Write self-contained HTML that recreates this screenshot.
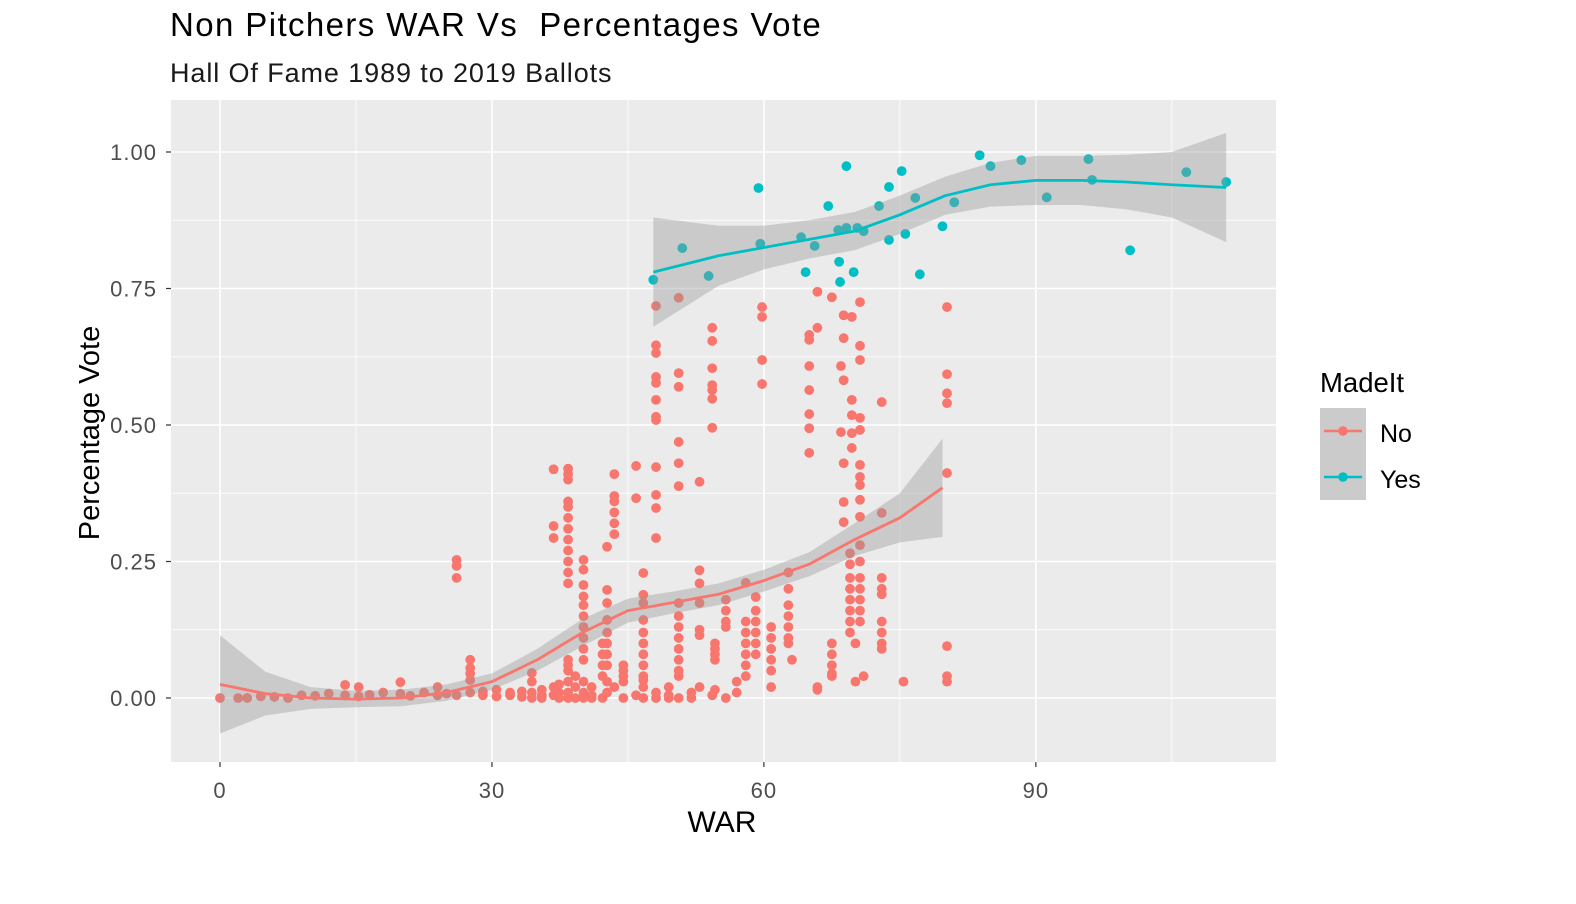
<!DOCTYPE html>
<html><head><meta charset="utf-8"><style>
html,body{margin:0;padding:0;background:#fff;}
svg{display:block;font-family:"Liberation Sans",Arial,sans-serif;}
</style></head><body>
<svg id="chart" width="1576" height="904" viewBox="0 0 1576 904">
<text x="170" y="36" font-size="33" letter-spacing="1.4" fill="#000" xml:space="preserve">Non Pitchers WAR Vs  Percentages Vote</text>
<text x="170" y="82" font-size="27" letter-spacing="0.9" fill="#1a1a1a">Hall Of Fame 1989 to 2019 Ballots</text>
<rect x="171" y="100" width="1105" height="662" fill="#EBEBEB"/>
<g id="grid"></g>
<g id="pts"></g>
<g id="smooth"></g>
<g id="axes"></g>
<text x="722" y="832" font-size="30" text-anchor="middle" fill="#000">WAR</text>
<text transform="translate(99,433) rotate(-90)" font-size="29" text-anchor="middle" fill="#000">Percentage Vote</text>
<g>
<text x="1320" y="392" font-size="27.5" fill="#000">MadeIt</text>
<rect x="1320" y="408" width="46" height="46" fill="#CBCBCB"/>
<line x1="1324" y1="431" x2="1362" y2="431" stroke="#F8766D" stroke-width="2.5"/>
<circle cx="1343" cy="431" r="4.8" fill="#F8766D"/>
<text x="1380" y="442" font-size="25" fill="#000">No</text>
<rect x="1320" y="454" width="46" height="46" fill="#CBCBCB"/>
<line x1="1324" y1="477" x2="1362" y2="477" stroke="#00BFC4" stroke-width="2.5"/>
<circle cx="1343" cy="477" r="4.8" fill="#00BFC4"/>
<text x="1380" y="488" font-size="25" fill="#000">Yes</text>
</g>
</svg>
<script>
const xTicks = [0, 30, 60, 90];
const xMinor = [15, 45, 75, 105];
const yTicks = [0, 0.25, 0.5, 0.75, 1.0];
const yTickLabels = ["0.00", "0.25", "0.50", "0.75", "1.00"];
const yMinor = [-0.125, 0.125, 0.375, 0.625, 0.875];

const yesWar = [47.8,51.0,53.9,59.4,59.6,64.1,64.6,65.6,67.1,68.3,68.2,68.4,69.1,69.1,69.9,70.3,71.0,72.7,73.8,73.8,75.2,75.6,76.7,77.2,79.7,81.0,83.8,85.0,88.4,91.2,95.8,96.2,100.4,106.6,111.0];
const yesVote = [0.766,0.824,0.773,0.934,0.832,0.844,0.780,0.828,0.901,0.799,0.857,0.762,0.974,0.861,0.780,0.861,0.855,0.901,0.936,0.839,0.965,0.850,0.916,0.776,0.864,0.908,0.994,0.974,0.985,0.917,0.987,0.949,0.820,0.963,0.945];

const noColWar = [0,2,3,4.5,6,7.5,9,10.5,12,13.8,15.3,16.5,18,19.9,21,22.5,24,25,26.1,27.6,29,30.5,32,33.3,34.4,35.5,36.8,37.4,38.4,39.2,40.1,41,42.2,42.7,43.5,44.5,45.9,46.7,48.1,49.5,50.6,52,52.9,54.3,54.6,55.8,57,58,59.1,59.8,60.8,62.7,63.1,65.0,65.9,67.5,68.5,68.8,69.5,69.7,70.1,70.6,71,73,75.4,80.2];
const noColVotes = [
[0],[0],[0],[0.003],[0.002],[0],[0.005],[0.004],[0.008],[0.024,0.005],[0.02,0.003],[0.006],[0.01],[0.029,0.008],[0.004],[0.01],[0.02,0.005],[0.008],
[0.253,0.242,0.22,0.005],[0.07,0.055,0.045,0.033,0.01],[0.005,0.012],[0.003,0.015],[0.005,0.01],[0.002,0.012],[0.046,0.03,0.01,0],[0.005,0.015,0],
[0.419,0.315,0.293,0.02,0.005],[0.01,0,0.025],
[0.42,0.41,0.40,0.36,0.35,0.33,0.31,0.29,0.27,0.25,0.23,0.21,0.07,0.06,0.05,0.03,0.01,0],
[0.02,0,0.04],
[0.253,0.235,0.207,0.186,0.17,0.15,0.13,0.11,0.09,0.07,0.03,0.01,0],
[0.005,0.02,0],[0.1,0.08,0.06,0.04,0],
[0.277,0.198,0.174,0.143,0.12,0.1,0.08,0.06,0.03,0.01],
[0.41,0.37,0.36,0.34,0.32,0.30,0.02],[0.06,0.05,0.04,0.03,0],[0.425,0.366,0.005],
[0.229,0.189,0.174,0.143,0.12,0.1,0.08,0.06,0.04,0.033,0.02,0],
[0.718,0.646,0.632,0.588,0.577,0.546,0.515,0.509,0.423,0.372,0.348,0.293,0.01,0],
[0.005,0.02,0],
[0.733,0.595,0.570,0.469,0.430,0.388,0.174,0.15,0.13,0.11,0.09,0.07,0.05,0.04,0],
[0.01,0],[0.396,0.234,0.21,0.174,0.125,0.115,0.02],
[0.678,0.654,0.604,0.573,0.564,0.548,0.495,0.005],[0.1,0.09,0.08,0.07,0.015],[0.18,0.16,0.14,0.13,0],[0.01,0.03],
[0.211,0.14,0.12,0.1,0.08,0.06,0.04],[0.185,0.16,0.14,0.12,0.1,0.08],[0.716,0.698,0.619,0.575],
[0.13,0.11,0.09,0.07,0.05,0.02],[0.23,0.2,0.17,0.15,0.13,0.11,0.1],[0.07],
[0.665,0.656,0.608,0.564,0.520,0.494,0.449],[0.744,0.678,0.02,0.015],[0.734,0.1,0.08,0.06,0.045,0.04],
[0.608,0.487],[0.701,0.659,0.582,0.430,0.359,0.322],[0.265,0.245,0.22,0.2,0.18,0.16,0.14,0.12],
[0.698,0.546,0.518,0.485,0.458],[0.03,0.1],
[0.725,0.645,0.619,0.513,0.491,0.427,0.405,0.390,0.363,0.332,0.28,0.25,0.22,0.2,0.18,0.16,0.14],
[0.04],[0.542,0.339,0.22,0.2,0.19,0.14,0.12,0.1,0.09],[0.03],[0.716,0.593,0.558,0.540,0.412,0.095,0.04,0.03]
];

const noFitWar = [0,5,10,15,20,25,30,35,40,45,50,55,60,65,70,75,79.7];
const noFitVote = [0.025,0.008,0.0,-0.002,0.0,0.01,0.03,0.07,0.12,0.16,0.175,0.19,0.215,0.245,0.29,0.33,0.385];
const noFitSe = [0.09,0.04,0.02,0.015,0.015,0.015,0.015,0.02,0.025,0.022,0.02,0.02,0.02,0.022,0.03,0.045,0.09];
const yesFitWar = [47.8,55,60,65,70,75,80,85,90,95,100,105,111];
const yesFitVote = [0.78,0.81,0.825,0.84,0.855,0.885,0.92,0.94,0.948,0.948,0.945,0.94,0.935];
const yesFitSe = [0.1,0.055,0.04,0.035,0.035,0.035,0.035,0.04,0.045,0.045,0.05,0.06,0.1];

const NS = "http://www.w3.org/2000/svg";
const X = v => 220 + v * 9.065;
const Y = v => 698 - v * 546;
const PL = 171, PR = 1276, PT = 100, PB = 762;
function mk(tag, attrs, parent) {
  const e = document.createElementNS(NS, tag);
  for (const k in attrs) e.setAttribute(k, attrs[k]);
  parent.appendChild(e);
  return e;
}
const grid = document.getElementById('grid');
xMinor.forEach(v => { const l = mk('line', {x1: X(v), x2: X(v), y1: PT, y2: PB, stroke: '#fff', 'stroke-width': 0.8}, grid);
  
   });
yMinor.forEach(v => { const l = mk('line', {x1: PL, x2: PR, y1: Y(v), y2: Y(v), stroke: '#fff', 'stroke-width': 0.8}, grid);
  
   });
xTicks.forEach(v => { const l = mk('line', {x1: X(v), x2: X(v), y1: PT, y2: PB, stroke: '#fff', 'stroke-width': 1.6}, grid);
  
   });
yTicks.forEach(v => { const l = mk('line', {x1: PL, x2: PR, y1: Y(v), y2: Y(v), stroke: '#fff', 'stroke-width': 1.6}, grid);
  
   });

const axes = document.getElementById('axes');
xTicks.forEach(v => {
  const t = mk('line', {x1: X(v), x2: X(v), y1: PB, y2: PB + 5, stroke: '#333', 'stroke-width': 1.2}, axes);
  
  
  const s = mk('text', {x: X(v), y: PB + 36, 'font-size': 22, 'letter-spacing': 1, fill: '#4D4D4D', 'text-anchor': 'middle'}, axes);
  s.textContent = String(v);
  
  
});
yTicks.forEach((v, i) => {
  const t = mk('line', {x1: PL - 5, x2: PL, y1: Y(v), y2: Y(v), stroke: '#333', 'stroke-width': 1.2}, axes);
  
  
  const s = mk('text', {x: PL - 14, y: Y(v) + 8, 'font-size': 22, 'letter-spacing': 1, fill: '#4D4D4D', 'text-anchor': 'end'}, axes);
  s.textContent = yTickLabels[i];
  
  
});

const pts = document.getElementById('pts');
noColWar.forEach((w, i) => {
  noColVotes[i].forEach(v => {
    const c = mk('circle', {cx: X(w), cy: Y(v), r: 4.9, fill: '#F8766D'}, pts);
    
    
  });
});
yesWar.forEach((w, i) => {
  const c = mk('circle', {cx: X(w), cy: Y(yesVote[i]), r: 4.9, fill: '#00BFC4'}, pts);
  
  
});

const sm = document.getElementById('smooth');
function smooth(ws, vs, se, color, name) {
  let up = ws.map((w, i) => X(w) + ',' + Y(vs[i] + se[i]));
  let lo = ws.map((w, i) => X(w) + ',' + Y(vs[i] - se[i])).reverse();
  const r = mk('polygon', {points: up.concat(lo).join(' '), fill: '#999999', 'fill-opacity': 0.4}, sm);
  
  
  const l = mk('polyline', {points: ws.map((w, i) => X(w) + ',' + Y(vs[i])).join(' '), fill: 'none', stroke: color, 'stroke-width': 2.8, 'stroke-linejoin': 'round'}, sm);
  
  
}
smooth(noFitWar, noFitVote, noFitSe, '#F8766D', 'no');
smooth(yesFitWar, yesFitVote, yesFitSe, '#00BFC4', 'yes');
</script>
</body></html>
